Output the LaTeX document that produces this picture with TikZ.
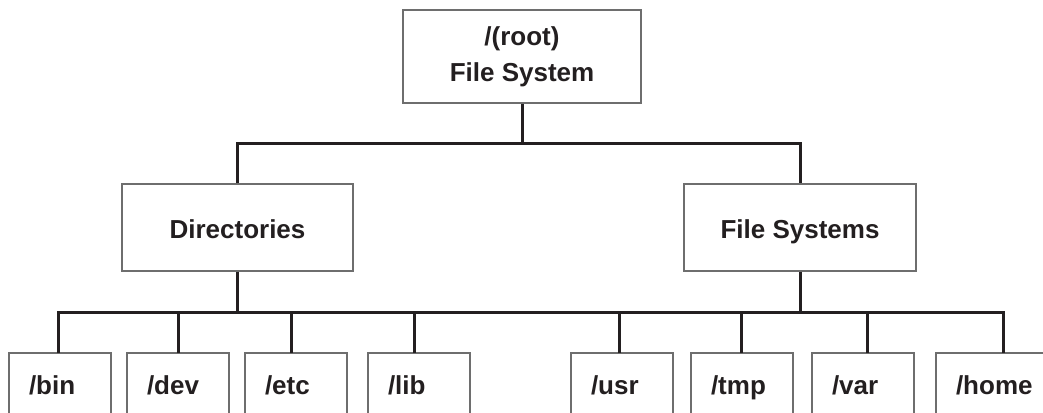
\documentclass[tikz,border=0pt]{standalone}
\usepackage{fontspec}
\setmainfont{Liberation Sans}
\usetikzlibrary{positioning}
\definecolor{ink}{HTML}{231F20}
\definecolor{edge}{HTML}{6E6E6E}

\begin{document}
\begin{tikzpicture}[x=1pt, y=-1pt,
  box/.style={draw=edge, line width=1.5pt, fill=white, text=ink, font=\fontsize{26}{36}\selectfont\bfseries, align=center},
  mid/.style={box, minimum height=87pt, text height=22pt, text depth=0pt},
  leaf/.style={box, outer sep=0pt, minimum width=102pt, minimum height=68pt, text width=62pt, inner xsep=20pt, inner ysep=0pt, align=left, text height=19pt, text depth=5pt},
  link/.style={draw=ink, line width=3pt},
  node distance=16pt]
  \useasboundingbox (0,0) rectangle (1043,412);
  \clip (0,0) rectangle (1043,412);

  % top levels
  \node[box, minimum width=238pt, minimum height=93pt] (root) at (522,56.5) {/(root)\\File System};
  \node[mid, minimum width=231pt] (dirs) at (237.5,227.5) {Directories};
  \node[mid, minimum width=232pt] (fs) at (800,227.5) {File Systems};

  % leaves
  \node[leaf, anchor=north west] (bin) at (9,353) {/bin};
  \node[leaf, right=of bin] (dev) {/dev};
  \node[leaf, right=of dev] (etc) {/etc};
  \node[leaf, right=21pt of etc] (lib) {/lib};
  \node[leaf, anchor=north west] (usr) at (571,353) {/usr};
  \node[leaf, right=18pt of usr] (tmp) {/tmp};
  \node[leaf, right=19pt of tmp] (var) {/var};
  \node[leaf, right=22pt of var, minimum width=130pt, text width=90pt] (home) {/home};

  \coordinate (top) at (0,143);
  \coordinate (bus) at (0,312);

  \draw[link] (root.south) -- (root.south |- top);
  \draw[link] (dirs.north) -- (dirs.north |- top) -- (fs.north |- top) -- (fs.north);
  \draw[link] (dirs.south) -- (dirs.south |- bus);
  \draw[link] (fs.south) -- (fs.south |- bus);
  \draw[link] ([xshift=-2pt]bin.north) |- ([xshift=2pt]home.north |- bus) -- ([xshift=2pt]home.north);
  \foreach \n/\dx in {dev/0, etc/-5, lib/-5, usr/-3, tmp/-1, var/4}
    \draw[link] ([xshift=\dx pt]\n.north) -- ([xshift=\dx pt]\n.north |- bus);
\end{tikzpicture}
\end{document}
